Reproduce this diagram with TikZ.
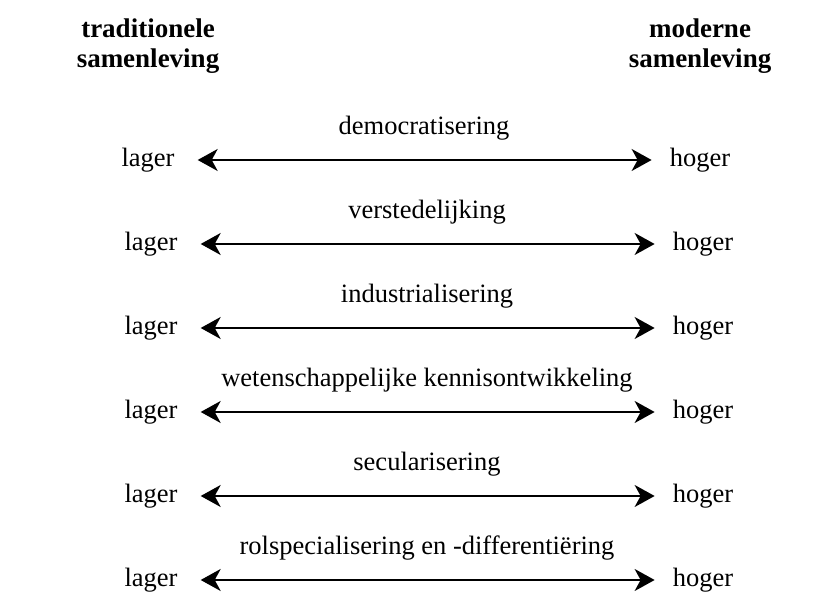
\documentclass[tikz,border=0pt]{standalone}
\usepackage{fontspec}
\setmainfont{Liberation Serif}
\usetikzlibrary{arrows.meta,positioning,calc}

\begin{document}
\begin{tikzpicture}[x=1pt,y=1pt]
	\useasboundingbox (0,0) rectangle (830,604);
	\tikzstyle{every node}=[inner sep=0pt,font=\fontsize{26.5}{30}\selectfont]
	\tikzstyle{kop}=[font=\fontsize{27}{30}\selectfont\bfseries,align=center]
	\tikzstyle{pijl}=[line width=2pt,{Stealth[length=20pt,width=22pt,inset=6pt]}-{Stealth[length=20pt,width=22pt,inset=6pt]}]
	\node[kop] at (148,558) (trad) {traditionele\\samenleving};
	\node[kop] at (700,558) (mod) {moderne\\samenleving};
	\foreach \t[count=\a] in {democratisering,verstedelijking,industrialisering,wetenschappelijke kennisontwikkeling,secularisering,rolspecialisering en -differentiëring}
	{\pgfmathtruncatemacro{\yn}{604-160-84*(\a-1)}
		\pgfmathtruncatemacro{\dx}{\a==1 ? -3 : 0}
		\node at (151+\dx,\yn) (l\a) {lager};
		\node at (703+\dx,\yn) (h\a) {hoger};
		\draw[pijl,shorten <=23pt,shorten >=18pt] (l\a)--(h\a);
		\node at ($(l\a)!0.5!(h\a)+(0,32)$) (t\a) {\t};}
\end{tikzpicture}
\end{document}
